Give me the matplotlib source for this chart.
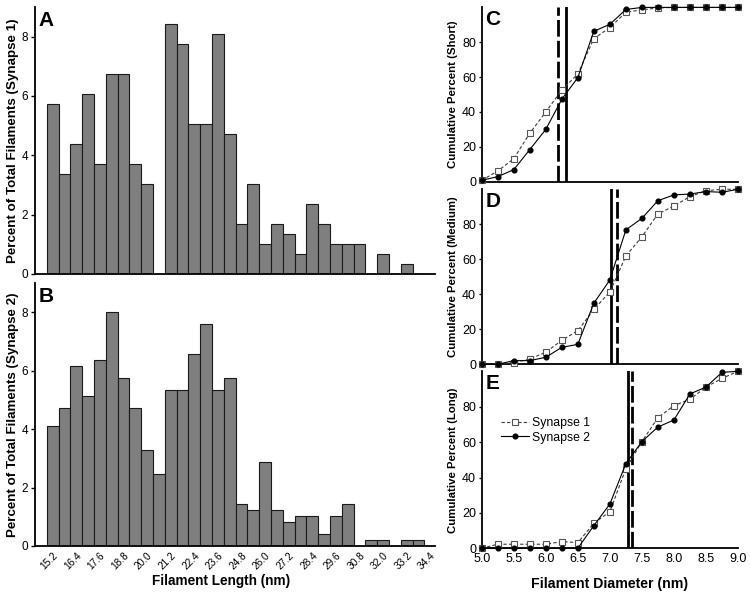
import matplotlib
matplotlib.use("Agg")
import matplotlib.pyplot as plt
import numpy as np

plt.rcParams['font.family'] = ['Liberation Sans', 'DejaVu Sans']

# ---- Histogram data (Filament length) ----
length_start = 15.2
length_step = 0.6
syn1_pct = [5.72, 3.36, 4.38, 6.06, 3.70, 6.73, 6.73, 3.70, 3.03, 0.0,
            8.42, 7.74, 5.05, 5.05, 8.08, 4.71, 1.68, 3.03, 1.01, 1.68,
            1.35, 0.67, 2.36, 1.68, 1.01, 1.01, 1.01, 0.0, 0.67, 0.0,
            0.34, 0.0]
syn2_pct = [4.11, 4.72, 6.16, 5.13, 6.37, 8.01, 5.75, 4.72, 3.29, 2.46,
            5.34, 5.34, 6.57, 7.60, 5.34, 5.75, 1.44, 1.23, 2.87, 1.23,
            0.82, 1.03, 1.03, 0.41, 1.03, 1.44, 0.0, 0.21, 0.21, 0.0,
            0.21, 0.21]
length_ticks = ['15.2', '16.4', '17.6', '18.8', '20.0', '21.2', '22.4', '23.6',
                '24.8', '26.0', '27.2', '28.4', '29.6', '30.8', '32.0', '33.2', '34.4']

# ---- Cumulative data (Filament diameter) ----
diam = [5.0, 5.25, 5.5, 5.75, 6.0, 6.25, 6.5, 6.75, 7.0, 7.25, 7.5, 7.75,
        8.0, 8.25, 8.5, 8.75, 9.0]
short_s1 = [0.8, 6.1, 13.2, 27.8, 40.0, 52.6, 61.8, 82.1, 88.4, 97.2, 98.6,
            99.7, 100, 100, 100, 100, 100]
short_s2 = [0.8, 2.9, 6.9, 18.4, 30.0, 47.3, 59.7, 86.3, 90.3, 98.8, 100,
            100, 100, 100, 100, 100, 100]
medium_s1 = [0.0, 0.2, 1.0, 3.0, 6.9, 13.7, 19.2, 31.4, 41.3, 61.9, 72.9,
             85.9, 90.5, 95.8, 99.2, 100, 100]
medium_s2 = [0.0, 0.0, 2.1, 2.1, 4.0, 9.7, 11.4, 34.9, 48.2, 76.8, 83.4,
             93.5, 96.8, 97.3, 98.7, 98.3, 100]
long_s1 = [0.0, 2.3, 2.3, 2.3, 2.3, 3.8, 3.2, 14.1, 20.7, 45.0, 60.3, 73.8,
           80.6, 84.2, 91.1, 96.0, 100]
long_s2 = [0.0, 0.0, 0.0, 0.0, 0.0, 0.0, 0.0, 12.8, 25.0, 47.8, 60.3, 68.5,
           72.5, 87.2, 91.1, 99.4, 100]
# median lines: (synapse1 dashed, synapse2 solid)
short_med = (6.19, 6.31)
medium_med = (7.11, 7.02)
long_med = (7.34, 7.29)

W, H = 750, 593
fig = plt.figure(figsize=(W / 100, H / 100), dpi=100)

def ax_px(l, t, r, b):
    return fig.add_axes([l / W, 1 - b / H, (r - l) / W, (b - t) / H])

tick_fs = 8.5
lab_fs = 9.6

axA = ax_px(35, 7, 435, 274)
axB = ax_px(35, 283, 435, 546)

x_len = [length_start + length_step * i for i in range(len(syn1_pct))]
tick_pos = [float(t) for t in length_ticks]

for ax, data, lab, letter in [(axA, syn1_pct, 'Percent of Total Filaments (Synapse 1)', 'A'),
                              (axB, syn2_pct, 'Percent of Total Filaments (Synapse 2)', 'B')]:
    ax.bar(x_len, data, width=length_step, color='#7f7f7f', edgecolor='#1a1a1a',
           linewidth=0.8)
    ax.set_xlim(length_start - 1.5 * length_step, 34.64)
    ax.set_ylim(0, 9)
    ax.set_yticks([0, 2, 4, 6, 8])
    ax.spines['top'].set_visible(False)
    ax.spines['right'].set_visible(False)
    ax.spines['left'].set_linewidth(1.3)
    ax.spines['bottom'].set_linewidth(1.3)
    ax.tick_params(axis='y', labelsize=tick_fs, length=3, width=1, pad=2)
    ax.set_ylabel(lab, fontsize=lab_fs, fontweight='bold', labelpad=2)
    ax.text(0.008, 0.985, letter, transform=ax.transAxes, fontsize=15,
            fontweight='bold', va='top', ha='left')
    ax.set_xticks(tick_pos)

axA.tick_params(axis='x', length=0, labelbottom=False)
axB.set_xticklabels(length_ticks, rotation=45, ha='right', rotation_mode='anchor')
axB.tick_params(axis='x', labelsize=7.3, length=0, pad=3)
axB.set_xlabel('Filament Length (nm)', fontsize=9.8, fontweight='bold')
axB.xaxis.set_label_coords(0.464, -0.108)

axC = ax_px(481.7, 7.4, 738, 181.7)
axD = ax_px(481.7, 189.3, 738, 364.3)
axE = ax_px(481.7, 371.3, 738, 548.3)

panels = [(axC, short_s1, short_s2, short_med, 'Cumulative Percent (Short)', 'C'),
          (axD, medium_s1, medium_s2, medium_med, 'Cumulative Percent (Medium)', 'D'),
          (axE, long_s1, long_s2, long_med, 'Cumulative Percent (Long)', 'E')]

for ax, s1, s2, med, lab, letter in panels:
    ax.plot(diam, s1, linestyle=(0, (3, 2)), color='#3a3a3a', linewidth=0.8,
            marker='s', markersize=4.4, markerfacecolor='white',
            markeredgecolor='#555555', markeredgewidth=0.8, label='Synapse 1',
            clip_on=False, zorder=3)
    ax.plot(diam, s2, linestyle='-', color='black', linewidth=0.8,
            marker='o', markersize=3.4, markerfacecolor='black',
            markeredgecolor='black', label='Synapse 2', clip_on=False, zorder=4)
    ax.axvline(med[0], color='black', linewidth=2.0, linestyle=(0, (6, 1.5)), zorder=2)
    ax.axvline(med[1], color='black', linewidth=2.0, zorder=2)
    ax.set_xlim(5.0, 9.0)
    ax.set_ylim(0, 100)
    ax.set_yticks([0, 20, 40, 60, 80])
    ax.spines['top'].set_visible(False)
    ax.spines['right'].set_visible(False)
    ax.spines['left'].set_linewidth(1.3)
    ax.spines['bottom'].set_linewidth(1.3)
    ax.tick_params(axis='y', labelsize=tick_fs + 0.5, length=2, width=1, pad=2)
    ax.set_ylabel(lab, fontsize=8.2, fontweight='bold', labelpad=3)
    ax.text(0.015, 0.985, letter, transform=ax.transAxes, fontsize=15,
            fontweight='bold', va='top', ha='left')

for ax in (axC, axD):
    ax.tick_params(axis='x', length=0, labelbottom=False)

axE.set_xticks([5.0, 5.5, 6.0, 6.5, 7.0, 7.5, 8.0, 8.5, 9.0])
axE.set_xticklabels(['5.0', '5.5', '6.0', '6.5', '7.0', '7.5', '8.0', '8.5', '9.0'])
axE.tick_params(axis='x', labelsize=tick_fs + 0.5, length=0, pad=3.5)
axE.set_xlabel('Filament Diameter (nm)', fontsize=10.2, fontweight='bold', labelpad=8.5)
axE.legend(loc='upper left', bbox_to_anchor=(0.052, 0.775), frameon=False,
           fontsize=8.8, handlelength=2.3, handletextpad=0.2, borderpad=0,
           labelspacing=0.2)

fig.savefig('out.png', dpi=100)
